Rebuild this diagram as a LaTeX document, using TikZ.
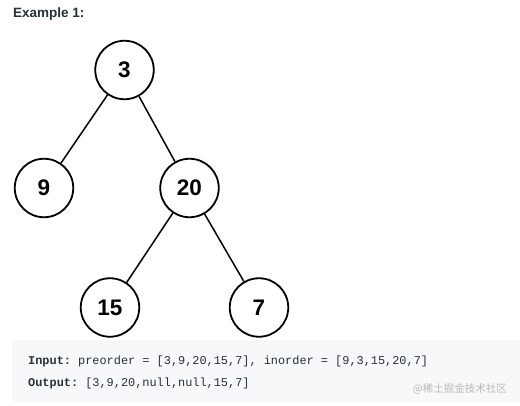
\documentclass[tikz,border=0pt]{standalone}
\usepackage{fontspec}
\setmainfont{Liberation Sans}
\setmonofont{Liberation Mono}
\newfontfamily\cjk{Noto Sans CJK SC}
\definecolor{boxbg}{HTML}{F7F8FA}
\definecolor{txt}{HTML}{263238}
\definecolor{wm}{HTML}{B8B8B8}
\begin{document}
\begin{tikzpicture}[x=1pt,y=-1pt,
  tnode/.style={circle,draw=black,line width=1.8pt,fill=white,minimum size=58.5pt,inner sep=0pt,font=\fontsize{22.5}{26}\selectfont\bfseries},
  edge/.style={line width=1.5pt,draw=black},
  codetxt/.style={anchor=base west,inner sep=0pt,text=txt,font=\fontsize{11.9}{14}\ttfamily}]
\useasboundingbox (0,0) rectangle (520,406);
\fill[white] (0,0) rectangle (520,406);
\node[anchor=base west,inner sep=0pt,text=txt,font=\fontsize{13.5}{16}\selectfont\bfseries] (title) at (13,18) {Example 1:};
\fill[boxbg] (12,340) rectangle (520,402);
\node[tnode] (n3) at (124.5,70) {3};
\node[tnode] (n9) at (44,188) {9};
\node[tnode] (n20) at (189.5,188) {20};
\node[tnode] (n15) at (110,307.5) {15};
\node[tnode] (n7) at (259,307.5) {7};
\draw[edge] (n3) -- (n9);
\draw[edge] (n3) -- (n20);
\draw[edge] (n20) -- (n15);
\draw[edge] (n20) -- (n7);
\node[codetxt] (in) at (28,364) {\textbf{Input:} preorder = [3,9,20,15,7], inorder = [9,3,15,20,7]};
\node[codetxt] (out) at (28,386) {\textbf{Output:} [3,9,20,null,null,15,7]};
\node[anchor=base east,inner sep=0pt,text=wm,font=\fontsize{10.5}{12}\cjk] (wmark) at (507,392) {@稀土掘金技术社区};
\end{tikzpicture}
\end{document}
